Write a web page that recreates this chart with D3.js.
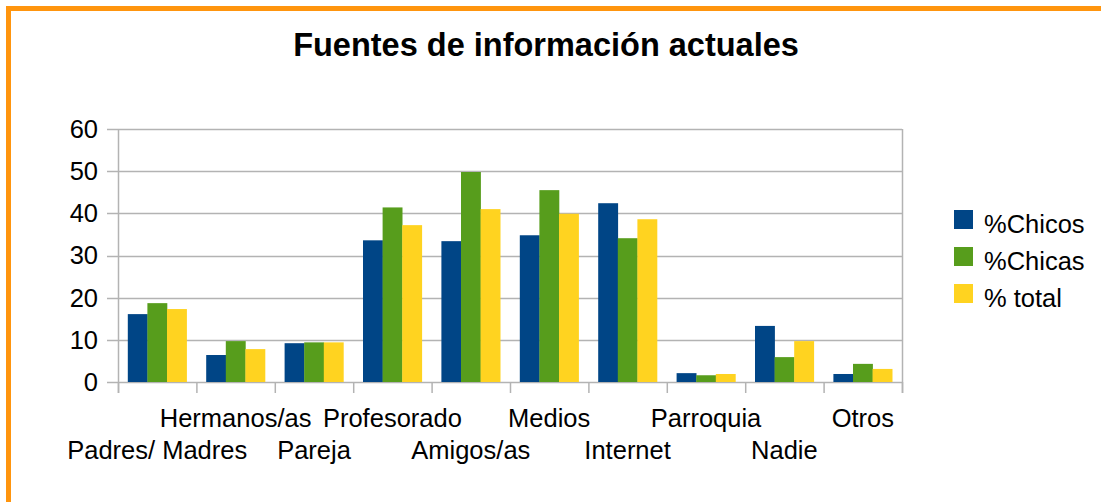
<!DOCTYPE html>
<html>
<head>
<meta charset="utf-8">
<script src="https://cdn.jsdelivr.net/npm/d3@7"></script>
<style>
  body { margin: 0; background: #fff; }
  text { font-family: "Liberation Sans", Arial, sans-serif; fill: #000; }
</style>
</head>
<body>
<div id="chart"></div>
<script>
// data
const categories = ["Padres/ Madres", "Hermanos/as", "Pareja", "Profesorado", "Amigos/as",
    "Medios", "Internet", "Parroquia", "Nadie", "Otros"];
const seriesNames = ["%Chicos", "%Chicas", "% total"];
const chicos = [16.1, 6.4, 9.2, 33.6, 33.4, 34.8, 42.4, 2.1, 13.3, 1.9];
const chicas = [18.7, 9.7, 9.4, 41.4, 49.8, 45.5, 34.1, 1.6, 5.9, 4.3];
const total  = [17.3, 7.8, 9.4, 37.2, 41.0, 39.9, 38.6, 1.9, 9.7, 3.1];
const yTicks = [0, 10, 20, 30, 40, 50, 60];
const colors = ["#004586", "#579d1c", "#ffd320"];

const width = 1101, height = 502;
const plot = { left: 118, right: 902, top: 129, bottom: 382 };

const svg = d3.select("#chart")
    .append("svg")
    .attr("width", width)
    .attr("height", height);

// orange frame
svg.append("rect")
    .attr("x", 8.5)
    .attr("y", 8.5)
    .attr("width", width + 20)
    .attr("height", height + 20)
    .attr("fill", "none")
    .attr("stroke", "#ff950e")
    .attr("stroke-width", 5);

// title
svg.append("text")
    .attr("x", 546)
    .attr("y", 56)
    .attr("text-anchor", "middle")
    .style("font-size", "32.5px")
    .style("font-weight", "bold")
    .text("Fuentes de información actuales");

const x0 = d3.scaleBand()
    .domain(categories)
    .range([plot.left, plot.right])
    .paddingInner(0.25)
    .paddingOuter(0.125);

const x1 = d3.scaleBand()
    .domain(seriesNames)
    .range([0, x0.bandwidth()]);

const y = d3.scaleLinear()
    .domain([0, 60])
    .range([plot.bottom, plot.top]);

// gridlines
svg.append("g")
    .selectAll("line")
    .data(yTicks)
    .join("line")
    .attr("x1", plot.left - 11)
    .attr("x2", plot.right)
    .attr("y1", d => Math.round(y(d)) + 0.5)
    .attr("y2", d => Math.round(y(d)) + 0.5)
    .attr("stroke", "#b3b3b3")
    .attr("stroke-width", 1.5);

// y axis + right border
[plot.left, plot.right].forEach(xx => {
    svg.append("line")
        .attr("x1", xx + 0.5).attr("x2", xx + 0.5)
        .attr("y1", plot.top).attr("y2", plot.bottom + 11)
        .attr("stroke", "#b3b3b3")
        .attr("stroke-width", 1.5);
});

// x category ticks
const step = x0.step();
svg.append("g")
    .selectAll("line")
    .data(d3.range(categories.length + 1))
    .join("line")
    .attr("x1", i => plot.left + i * step + 0.5)
    .attr("x2", i => plot.left + i * step + 0.5)
    .attr("y1", plot.bottom)
    .attr("y2", plot.bottom + 11)
    .attr("stroke", "#b3b3b3")
    .attr("stroke-width", 1.5);

// y tick labels
svg.append("g")
    .selectAll("text")
    .data(yTicks)
    .join("text")
    .attr("x", 98)
    .attr("y", d => y(d))
    .attr("dy", "0.35em")
    .attr("text-anchor", "end")
    .style("font-size", "25.5px")
    .text(d => d);

// bars
const seriesData = [chicos, chicas, total];
const rows = categories.map((c, i) => ({
    cat: c,
    vals: seriesNames.map((s, j) => ({ key: s, value: seriesData[j][i], color: colors[j] }))
}));

svg.append("g")
    .selectAll("g")
    .data(rows)
    .join("g")
    .attr("transform", d => `translate(${x0(d.cat)},0)`)
    .selectAll("rect")
    .data(d => d.vals)
    .join("rect")
    .attr("x", d => x1(d.key))
    .attr("y", d => y(d.value))
    .attr("width", x1.bandwidth() + 0.3)
    .attr("height", d => y(0) - y(d.value))
    .attr("fill", d => d.color);

// x labels, staggered in two rows
svg.append("g")
    .selectAll("text")
    .data(categories)
    .join("text")
    .attr("x", d => x0(d) + x0.bandwidth() / 2)
    .attr("y", (d, i) => i % 2 === 0 ? 459 : 427)
    .attr("text-anchor", "middle")
    .style("font-size", "25.5px")
    .text(d => d);

// legend
const legend = svg.append("g")
    .selectAll("g")
    .data(seriesNames)
    .join("g")
    .attr("transform", (d, i) => `translate(954,${210 + i * 37})`);

legend.append("rect")
    .attr("width", 19)
    .attr("height", 19)
    .attr("fill", (d, i) => colors[i]);

legend.append("text")
    .attr("x", 30)
    .attr("y", 23)
    .style("font-size", "25.5px")
    .text(d => d);
</script>
</body>
</html>
